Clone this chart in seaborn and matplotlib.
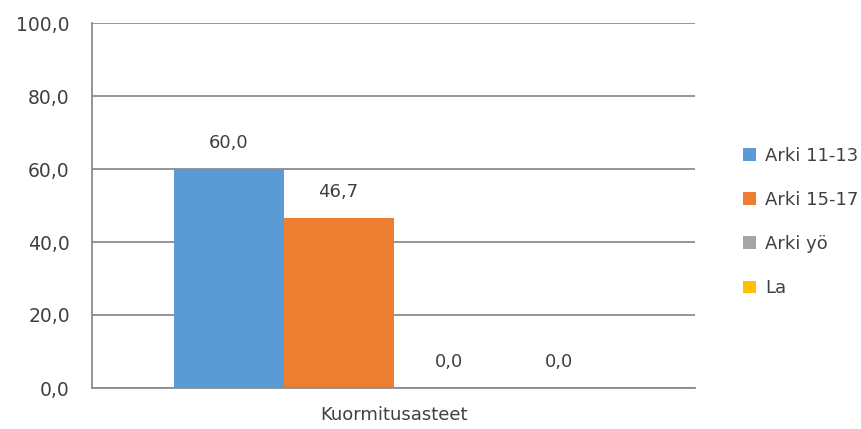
import matplotlib
matplotlib.use("Agg")
import matplotlib.pyplot as plt
import seaborn as sns
import pandas as pd
from matplotlib.ticker import FuncFormatter, FixedLocator
from matplotlib.patches import Patch

category = ["Kuormitusasteet"]
series = ["Arki 11-13", "Arki 15-17", "Arki yö", "La"]
values = [60.0, 46.7, 0.0, 0.0]
colors = ["#5B9BD5", "#ED7D31", "#A5A5A5", "#FFC000"]
yticks = [0, 20, 40, 60, 80, 100]

df = pd.DataFrame({"cat": category * len(series), "series": series, "value": values})

sns.set_style("white")
plt.rcParams['font.family'] = ['DejaVu Sans']

fig = plt.figure(figsize=(8.61, 4.29), dpi=100)
ax = fig.add_axes([92/861, 1-388/429, (695-92)/861, (388-23)/429])

sns.barplot(data=df, x="cat", y="value", hue="series", palette=colors,
            width=440/603, dodge=True, ax=ax, legend=False, saturation=1,
            linewidth=0)

ax.set_xlim(-0.5, 0.5)
ax.set_ylim(0, 100)
ax.yaxis.set_major_locator(FixedLocator(yticks))
ax.yaxis.set_major_formatter(FuncFormatter(lambda v, p: f"{v:.1f}".replace(".", ",")))
ax.grid(axis="y", color="#8C8C8C", linewidth=1.3)
ax.set_axisbelow(True)
for s in ["top", "right"]:
    ax.spines[s].set_visible(False)
for s in ["left", "bottom"]:
    ax.spines[s].set_color("#8C8C8C")
    ax.spines[s].set_linewidth(1.3)
ax.tick_params(axis="y", length=7, width=1.3, color="#8C8C8C", pad=9, labelsize=13.5, labelcolor="#404040")
ax.tick_params(axis="x", which="major", length=0, pad=13, labelsize=13, labelcolor="#404040")
ax.set_xticks([-0.5, 0.5], minor=True)
ax.tick_params(axis="x", which="minor", length=7, width=1.3, color="#8C8C8C")
ax.set_xlabel("")
ax.set_ylabel("")

for cont in ax.containers:
    ax.bar_label(cont, labels=[f"{v:.1f}".replace(".", ",") for v in cont.datavalues],
                 padding=12, fontsize=13, color="#404040")

handles = [Patch(facecolor=c, edgecolor="none") for c in colors]
fig.legend(handles, series, loc="center left", bbox_to_anchor=(727/861, 1-222/429),
           frameon=False, fontsize=13, labelspacing=1.45, handlelength=0.7,
           handleheight=0.7, handletextpad=0.5, labelcolor="#404040")

fig.savefig("out.png", dpi=100)
